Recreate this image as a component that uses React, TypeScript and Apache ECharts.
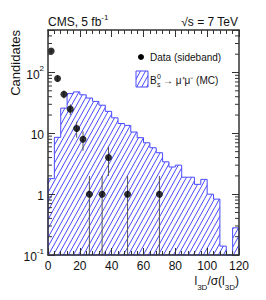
import React, { useEffect, useRef } from "react";
import * as echarts from "echarts";

// MC histogram (Bs -> mu mu), bins of width 4 on l3D/sigma
const binLow = [0, 4, 8, 12, 16, 20, 24, 28, 32, 36, 40, 44, 48, 52, 56, 60, 64, 68, 72, 76, 80, 84, 88, 92, 96, 100, 104, 108, 112, 116];
const binHigh = [4, 8, 12, 16, 20, 24, 28, 32, 36, 40, 44, 48, 52, 56, 60, 64, 68, 72, 76, 80, 84, 88, 92, 96, 100, 104, 108, 112, 116, 120];
const mcValues = [1.8, 8.6, 26, 45, 48, 43, 38, 33.5, 29, 23, 18, 14.5, 13.5, 10.5, 8.5, 7, 5.8, 4.8, 3.4, 2.8, 3.0, 1.9, 1.9, 1.45, 1.75, 1.0, 0.83, 0.14, 0, 0.28];

// Data (sideband)
const dataX = [2, 6, 10, 14, 18, 22, 26, 34, 38, 50, 70];
const dataY = [225, 80, 44, 25, 12, 8, 1, 1, 4, 1, 1];
const dataLow = [210, 71, 37.4, 20, 8.5, 5.2, 0, 0, 2, 0, 0];
const dataHigh = [240, 89, 50.6, 30, 15.5, 10.8, 2, 2, 6, 2, 2];

// axis settings
const xTicks = [0, 20, 40, 60, 80, 100, 120];
const yMin = 0.1;
const yMax = 500;
const yMinorTicks = [0.2, 0.3, 0.4, 0.5, 0.6, 0.7, 0.8, 0.9, 2, 3, 4, 5, 6, 7, 8, 9, 20, 30, 40, 50, 60, 70, 80, 90, 200, 300, 400];

const FONT = "Liberation Sans, Arial, Helvetica, sans-serif";
const BLUE = "#4a4aff";
const AXIS = "#333";

function makeHatch() {
  const c = document.createElement("canvas");
  c.width = 5;
  c.height = 9;
  const ctx = c.getContext("2d")!;
  ctx.strokeStyle = BLUE;
  ctx.lineWidth = 1;
  for (const dx of [-5, 0, 5]) {
    ctx.beginPath();
    ctx.moveTo(dx, 9);
    ctx.lineTo(dx + 5, 0);
    ctx.stroke();
  }
  return c;
}

export default function App() {
  const ref = useRef<HTMLDivElement>(null);
  useEffect(() => {
    document.body.style.margin = "0";
    const chart = echarts.init(ref.current!, null, { renderer: "svg" });
    const hatch = { image: makeHatch(), repeat: "repeat" };
    const clampY = (v: number) => (v <= yMin ? yMin : v);

    const yLabel = (v: number) => {
      const lg = Math.log10(v);
      const e = Math.round(lg);
      if (Math.abs(lg - e) > 1e-6) return "";
      if (e === 0) return "{b|1}";
      if (e === 1) return "{b|10}";
      return "{b|10}{e|" + e + "}";
    };

    const xAxisBase = {
      type: "value",
      min: 0,
      max: 120,
      interval: 20,
      z: 10,
      axisLine: { show: true, onZero: false, lineStyle: { color: AXIS, width: 1.5 } },
      axisTick: { show: true, inside: true, length: 7, lineStyle: { color: AXIS } },
      minorTick: { show: true, splitNumber: 5, length: 4, lineStyle: { color: AXIS } },
      splitLine: { show: false },
    };
    const yAxisBase = {
      type: "log",
      logBase: 10,
      min: yMin,
      max: yMax,
      z: 10,
      axisLine: { show: true, onZero: false, lineStyle: { color: AXIS, width: 1.5 } },
      axisTick: { show: true, inside: true, length: 7, lineStyle: { color: AXIS } },
      splitLine: { show: false },
    };

    chart.setOption({
      animation: false,
      grid: { left: 48, right: 27, top: 30, bottom: 45 },
      xAxis: [
        {
          ...xAxisBase,
          position: "bottom",
          axisLabel: {
            show: true,
            fontSize: 12,
            fontFamily: FONT,
            color: "#111",
            margin: 5,
            formatter: (v: number) => (xTicks.includes(v) ? String(v) : ""),
          },
        },
        { ...xAxisBase, position: "top", axisLabel: { show: false } },
      ],
      yAxis: [
        {
          ...yAxisBase,
          position: "left",
          axisLabel: {
            show: true,
            margin: 4,
            color: "#111",
            formatter: yLabel,
            rich: {
              b: { fontSize: 12, fontFamily: FONT, color: "#111", lineHeight: 16, verticalAlign: "bottom" },
              e: { fontSize: 8, fontFamily: FONT, color: "#111", lineHeight: 9, verticalAlign: "top" },
            },
          },
        },
        { ...yAxisBase, position: "right", axisLabel: { show: false } },
      ],
      series: [
        {
          type: "custom",
          z: 1,
          data: [[0]],
          renderItem: (params: any, api: any) => {
            const pts: number[][] = [];
            pts.push(api.coord([binLow[0], yMin]));
            for (let i = 0; i < mcValues.length; i++) {
              const v = clampY(mcValues[i]);
              pts.push(api.coord([binLow[i], v]));
              pts.push(api.coord([binHigh[i], v]));
            }
            pts.push(api.coord([binHigh[binHigh.length - 1], yMin]));
            return {
              type: "polygon",
              shape: { points: pts },
              style: { fill: hatch, stroke: BLUE, lineWidth: 1 },
            };
          },
        },
        {
          type: "custom",
          z: 3,
          data: dataX.map((x, i) => [x, dataLow[i], dataHigh[i]]),
          renderItem: (params: any, api: any) => {
            const x = api.value(0);
            const lo = api.coord([x, clampY(api.value(1))]);
            const hi = api.coord([x, api.value(2)]);
            return {
              type: "line",
              shape: { x1: lo[0], y1: lo[1], x2: hi[0], y2: hi[1] },
              style: { stroke: "#555", lineWidth: 1 },
            };
          },
        },
        {
          type: "scatter",
          z: 4,
          symbol: "circle",
          symbolSize: 7,
          itemStyle: { color: "#000" },
          data: dataX.map((x, i) => [x, dataY[i]]),
        },
        {
          type: "custom",
          z: 11,
          silent: true,
          data: yMinorTicks.map((v) => [v]),
          renderItem: (params: any, api: any) => {
            const v = api.value(0);
            const l = api.coord([0, v]);
            const r = api.coord([120, v]);
            return {
              type: "group",
              children: [
                { type: "line", shape: { x1: l[0], y1: l[1], x2: l[0] + 4, y2: l[1] }, style: { stroke: AXIS, lineWidth: 1 } },
                { type: "line", shape: { x1: r[0], y1: r[1], x2: r[0] - 4, y2: r[1] }, style: { stroke: AXIS, lineWidth: 1 } },
              ],
            };
          },
        },
      ],
      graphic: [
        {
          type: "text",
          x: 48,
          y: 28,
          style: {
            text: "{m|CMS, 5 fb}{e|-1}",
            align: "left",
            verticalAlign: "bottom",
            rich: {
              m: { fontSize: 12, fontFamily: FONT, fill: "#111", lineHeight: 15, verticalAlign: "bottom" },
              e: { fontSize: 8, fontFamily: FONT, fill: "#111", lineHeight: 9, verticalAlign: "top" },
            },
          },
        },
        {
          type: "text",
          x: 238,
          y: 28,
          style: {
            text: "√s = 7 TeV",
            align: "right",
            verticalAlign: "bottom",
            fontSize: 12,
            fontFamily: FONT,
            fill: "#111",
          },
        },
        {
          type: "text",
          x: 15,
          y: 30,
          rotation: Math.PI / 2,
          style: {
            text: "Candidates",
            align: "right",
            verticalAlign: "middle",
            fontSize: 13,
            fontFamily: FONT,
            fill: "#111",
          },
        },
        {
          type: "text",
          x: 239,
          y: 275,
          style: {
            text: "{m|l}{s|3D}{m|/σ(l}{s|3D}{m|)}",
            align: "right",
            verticalAlign: "top",
            rich: {
              m: { fontSize: 12, fontFamily: FONT, fill: "#111", lineHeight: 16, verticalAlign: "top" },
              s: { fontSize: 8, fontFamily: FONT, fill: "#111", lineHeight: 9, verticalAlign: "bottom" },
            },
          },
        },
        // legend
        { type: "circle", shape: { cx: 141, cy: 57, r: 3 }, style: { fill: "#000" } },
        {
          type: "text",
          x: 150,
          y: 57,
          style: { text: "Data (sideband)", align: "left", verticalAlign: "middle", fontSize: 10, fontFamily: FONT, fill: "#111" },
        },
        { type: "rect", shape: { x: 136, y: 71, width: 12, height: 16 }, style: { fill: hatch, stroke: BLUE, lineWidth: 1 } },
        {
          type: "text",
          x: 150,
          y: 80,
          style: { text: "B", align: "left", verticalAlign: "middle", fontSize: 10, fontFamily: FONT, fill: "#111" },
        },
        {
          type: "text",
          x: 157,
          y: 76,
          style: { text: "0", align: "left", verticalAlign: "middle", fontSize: 7, fontFamily: FONT, fill: "#111" },
        },
        {
          type: "text",
          x: 157,
          y: 84,
          style: { text: "s", align: "left", verticalAlign: "middle", fontSize: 7, fontFamily: FONT, fill: "#111" },
        },
        {
          type: "text",
          x: 163,
          y: 80,
          style: { text: "→ μ⁺μ⁻ (MC)", align: "left", verticalAlign: "middle", fontSize: 10, fontFamily: FONT, fill: "#111" },
        },
      ],
    });
    return () => chart.dispose();
  }, []);
  return (
    <div
      ref={ref}
      style={{ position: "fixed", left: 0, top: 0, width: 266, height: 300, background: "#fff" }}
    />
  );
}
